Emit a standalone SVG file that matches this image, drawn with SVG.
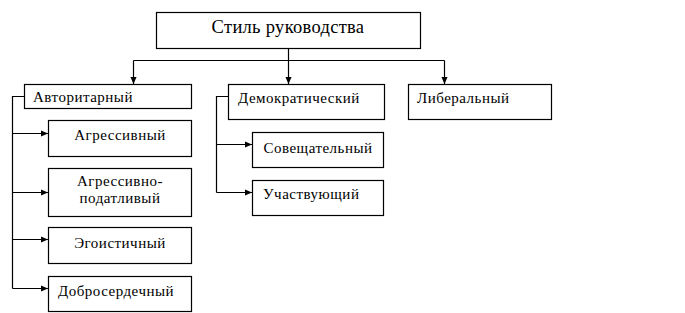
<svg xmlns="http://www.w3.org/2000/svg" width="685" height="313" viewBox="0 0 685 313">
<style>
.box{fill:#fff;stroke:#000;stroke-width:1.2}
.ln{fill:none;stroke:#000;stroke-width:1.2}
text{font-family:"Liberation Serif","Times New Roman",serif;font-size:15px;letter-spacing:0.5px;fill:#000}
.title{font-size:18.5px;letter-spacing:0.3px}
.c{text-anchor:middle}
</style>
<defs>
<marker id="ah" viewBox="0 0 8 8" refX="8" refY="4" markerWidth="7" markerHeight="7" markerUnits="userSpaceOnUse" orient="auto">
<path d="M0,0.5 L8,4 L0,7.5 Z" fill="#000"/>
</marker>
</defs>
<rect width="685" height="313" fill="#fff"/>
<g id="connectors">
<path class="ln" d="M288.5,48 V60.5"/>
<path class="ln" d="M133.5,60.5 H444.5"/>
<path class="ln" d="M133.5,60.5 V84" marker-end="url(#ah)"/>
<path class="ln" d="M288.5,60.5 V84" marker-end="url(#ah)"/>
<path class="ln" d="M444.5,60.5 V84" marker-end="url(#ah)"/>
<path class="ln" d="M24,96.5 H12.5 V288.5"/>
<path class="ln" d="M12.5,133.5 H48" marker-end="url(#ah)"/>
<path class="ln" d="M12.5,192.5 H48" marker-end="url(#ah)"/>
<path class="ln" d="M12.5,239.5 H48" marker-end="url(#ah)"/>
<path class="ln" d="M12.5,288.5 H48" marker-end="url(#ah)"/>
<path class="ln" d="M228,96.5 H216.5 V192.5"/>
<path class="ln" d="M216.5,144.5 H252" marker-end="url(#ah)"/>
<path class="ln" d="M216.5,192.5 H252" marker-end="url(#ah)"/>
</g>
<g id="n-root"><rect class="box" x="156.5" y="12.5" width="264" height="36"/><text class="title c" x="288" y="33">Стиль руководства</text></g>
<g id="n-avt"><rect class="box" x="24.5" y="84.5" width="167" height="24"/><text x="33" y="102">Авторитарный</text></g>
<g id="n-dem"><rect class="box" x="228.5" y="84.5" width="156" height="35"/><text x="238" y="103">Демократический</text></g>
<g id="n-lib"><rect class="box" x="408.5" y="84.5" width="143" height="35"/><text x="417" y="103">Либеральный</text></g>
<g id="n-agr"><rect class="box" x="48.5" y="120.5" width="143" height="36"/><text class="c" x="120" y="140">Агрессивный</text></g>
<g id="n-agrpod"><rect class="box" x="48.5" y="168.5" width="143" height="48"/><text class="c" x="120" y="186">Агрессивно-</text><text class="c" x="120" y="203">податливый</text></g>
<g id="n-ego"><rect class="box" x="48.5" y="227.5" width="143" height="36"/><text class="c" x="120" y="248">Эгоистичный</text></g>
<g id="n-dobr"><rect class="box" x="48.5" y="276.5" width="143" height="35"/><text class="c" x="116" y="296">Добросердечный</text></g>
<g id="n-sov"><rect class="box" x="252.5" y="132.5" width="131" height="35"/><text class="c" x="318" y="153">Совещательный</text></g>
<g id="n-uch"><rect class="box" x="252.5" y="180.5" width="131" height="35"/><text x="263" y="199">Участвующий</text></g>
</svg>
